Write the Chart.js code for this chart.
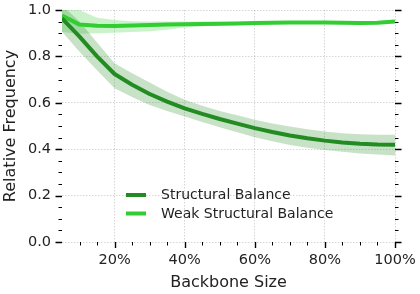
<!DOCTYPE html>
<html>
<head>
<meta charset="utf-8">
<script src="https://cdn.jsdelivr.net/npm/chart.js@4/dist/chart.umd.min.js"></script>
<style>
  html, body { margin: 0; padding: 0; background: #fff; }
  #wrap { width: 420px; height: 294px; }
</style>
</head>
<body>
<div id="wrap"><canvas id="chart" width="420" height="294"></canvas></div>
<script>
// backbone size in percent
const sizes = [5, 10, 15, 20, 25, 30, 35, 40, 45, 50, 55, 60, 65, 70, 75, 80, 85, 90, 95, 100];

// Structural Balance: mean and band
const structMean  = [0.964, 0.885, 0.800, 0.724, 0.678, 0.638, 0.605, 0.576, 0.552, 0.530, 0.510, 0.491, 0.474, 0.459, 0.447, 0.437, 0.429, 0.423, 0.420, 0.419];
const structLower = [0.906, 0.820, 0.740, 0.663, 0.625, 0.591, 0.565, 0.541, 0.517, 0.495, 0.473, 0.452, 0.434, 0.418, 0.406, 0.397, 0.389, 0.382, 0.377, 0.373];
const structUpper = [1.020, 0.950, 0.860, 0.771, 0.727, 0.687, 0.648, 0.613, 0.587, 0.565, 0.546, 0.527, 0.511, 0.498, 0.486, 0.476, 0.469, 0.464, 0.462, 0.462];

// Weak Structural Balance: mean and band
const weakMean  = [0.976, 0.937, 0.932, 0.931, 0.933, 0.935, 0.937, 0.939, 0.940, 0.941, 0.942, 0.944, 0.945, 0.946, 0.946, 0.946, 0.945, 0.944, 0.945, 0.950];
const weakLower = [0.905, 0.898, 0.900, 0.902, 0.905, 0.908, 0.915, 0.925, 0.930, 0.933, 0.935, 0.938, 0.940, 0.941, 0.942, 0.942, 0.941, 0.940, 0.940, 0.944];
const weakUpper = [1.050, 1.000, 0.967, 0.957, 0.952, 0.950, 0.950, 0.950, 0.950, 0.949, 0.949, 0.950, 0.950, 0.951, 0.951, 0.951, 0.950, 0.949, 0.950, 0.956];

const xTicks = [20, 40, 60, 80, 100];
const yTicks = [0, 0.2, 0.4, 0.6, 0.8, 1.0];

const FONT = 'DejaVu Sans';
const darkGreen = '#228B22';
const limeGreen = '#32CD32';

const pts = (ys) => sizes.map((x, i) => ({ x: x, y: ys[i] }));

const lineDs = (label, ys, color) => ({
    label: label, data: pts(ys), borderColor: color, backgroundColor: color,
    borderWidth: 4, pointRadius: 0, tension: 0, fill: false, order: 0,
    borderJoinStyle: 'round', borderCapStyle: 'butt'
});
const bandDs = (ys, fill, color) => ({
    label: '', data: pts(ys), borderWidth: 0, borderColor: 'rgba(0,0,0,0)',
    backgroundColor: color, pointRadius: 0, tension: 0, fill: fill, order: 1
});

/* minor and major ticks, drawn outward like matplotlib */
const tickMarks = {
    id: 'tickMarks',
    afterDraw(chart) {
        const ctx = chart.ctx;
        const xs = chart.scales.x, ys = chart.scales.y;
        const a = chart.chartArea;
        ctx.save();
        ctx.strokeStyle = '#000';
        // x bottom
        for (let v = 10; v <= 100; v += 5) {
            const major = v % 20 === 0;
            const px = Math.round(xs.getPixelForValue(v)) + 0.5;
            ctx.lineWidth = major ? 1.4 : 1;
            ctx.beginPath();
            ctx.moveTo(px, a.bottom);
            ctx.lineTo(px, a.bottom + (major ? 6 : 3.5));
            ctx.stroke();
        }
        // y left and right
        for (let k = 0; k <= 20; k++) {
            const v = k * 0.05;
            const major = k % 4 === 0;
            const py = Math.round(ys.getPixelForValue(v)) + 0.5;
            const len = major ? 6.5 : 3.5;
            ctx.lineWidth = major ? 1.4 : 1;
            ctx.beginPath();
            ctx.moveTo(a.left, py);
            ctx.lineTo(a.left - len, py);
            ctx.moveTo(a.right, py);
            ctx.lineTo(a.right + len, py);
            ctx.stroke();
        }
        ctx.restore();
    }
};

/* legend inside the plot, lower left */
const innerLegend = {
    id: 'innerLegend',
    afterDraw(chart) {
        const ctx = chart.ctx;
        const a = chart.chartArea;
        const items = chart.data.datasets.filter(d => d.label);
        const x0 = a.left + 64, y0 = a.top + 185;
        ctx.save();
        ctx.font = '14px "' + FONT + '"';
        ctx.textBaseline = 'middle';
        ctx.fillStyle = '#222';
        items.forEach((d, i) => {
            const y = y0 + i * 18.5;
            ctx.strokeStyle = d.borderColor;
            ctx.lineWidth = 4;
            ctx.beginPath();
            ctx.moveTo(x0, y);
            ctx.lineTo(x0 + 20, y);
            ctx.stroke();
            ctx.fillText(d.label, x0 + 35, y + 0.5);
        });
        ctx.restore();
    }
};

new Chart(document.getElementById('chart'), {
    type: 'line',
    data: {
        datasets: [
            lineDs('Structural Balance', structMean, darkGreen),
            lineDs('Weak Structural Balance', weakMean, limeGreen),
            bandDs(structLower, false, 'rgba(34,139,34,0.25)'),
            bandDs(structUpper, '-1', 'rgba(34,139,34,0.25)'),
            bandDs(weakLower, false, 'rgba(50,205,50,0.25)'),
            bandDs(weakUpper, '-1', 'rgba(50,205,50,0.25)')
        ]
    },
    options: {
        responsive: false,
        animation: false,
        devicePixelRatio: 1,
        layout: { padding: { top: 10, right: 25, left: 0, bottom: 0 } },
        plugins: { legend: { display: false }, tooltip: { enabled: false } },
        scales: {
            x: {
                type: 'linear', min: 5, max: 100,
                afterBuildTicks: (s) => { s.ticks = xTicks.map(v => ({ value: v })); },
                afterFit: (s) => { s.height = 52; s.paddingLeft = 0; s.paddingRight = 0; },
                ticks: {
                    callback: (v) => v + '%', color: '#222', padding: 10,
                    font: { family: FONT, size: 14.5 }, maxRotation: 0
                },
                grid: { color: 'rgba(0,0,0,0.16)', lineWidth: 1, drawTicks: false },
                border: { display: false, dash: [1.5, 1.5] },
                title: {
                    display: true, text: 'Backbone Size', color: '#222',
                    font: { family: FONT, size: 16 }, padding: { top: 0, bottom: 2 }
                }
            },
            y: {
                min: 0, max: 1,
                afterBuildTicks: (s) => { s.ticks = yTicks.map(v => ({ value: v })); },
                afterFit: (s) => { s.width = 62; s.paddingTop = 0; s.paddingBottom = 0; },
                ticks: {
                    callback: (v) => v.toFixed(1), color: '#222', padding: 11,
                    font: { family: FONT, size: 14.5 }
                },
                grid: { color: 'rgba(0,0,0,0.16)', lineWidth: 1, drawTicks: false },
                border: { display: false, dash: [1.5, 1.5] },
                title: {
                    display: true, text: 'Relative Frequency', color: '#222',
                    font: { family: FONT, size: 16 }, padding: { top: 1, bottom: 0 }
                }
            }
        }
    },
    plugins: [tickMarks, innerLegend]
});
</script>
</body>
</html>
